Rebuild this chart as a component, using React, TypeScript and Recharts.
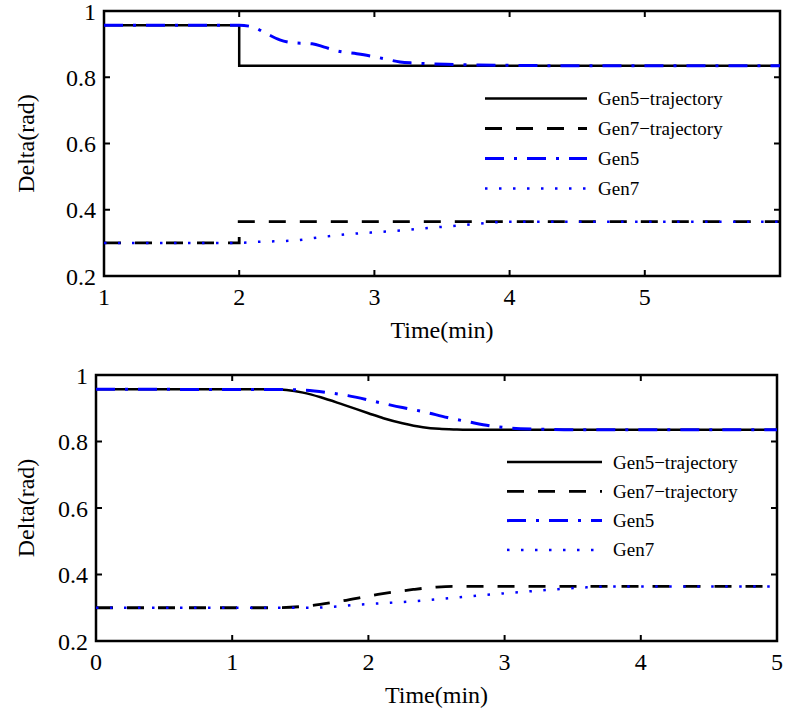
import React from 'react';
import { LineChart, Line, XAxis, YAxis, ReferenceArea, Legend, Label } from 'recharts';

type Pt = { t: number; y: number };

// ---------- shared ----------
const seriesNames = ['Gen5\u2212trajectory', 'Gen7\u2212trajectory', 'Gen5', 'Gen7'];
const yTicks = [0.2, 0.4, 0.6, 0.8, 1];
const yDomain: [number, number] = [0.2, 1];

// ---------- top panel ----------
const topXTicks = [1, 2, 3, 4, 5];
const topXDomain: [number, number] = [1, 6];
const topGen5Traj: Pt[] = [
  { t: 1, y: 0.957 }, { t: 2, y: 0.957 }, { t: 2, y: 0.835 }, { t: 6, y: 0.835 },
];
const topGen7Traj: Pt[] = [
  { t: 1, y: 0.3 }, { t: 2, y: 0.3 }, { t: 2, y: 0.364 }, { t: 6, y: 0.364 },
];
const topGen5: Pt[] = [
  { t: 1, y: 0.957 }, { t: 2.0, y: 0.957 }, { t: 2.1, y: 0.952 }, { t: 2.2, y: 0.932 },
  { t: 2.3, y: 0.913 }, { t: 2.4, y: 0.904 }, { t: 2.54, y: 0.901 }, { t: 2.63, y: 0.891 },
  { t: 2.73, y: 0.879 }, { t: 2.87, y: 0.871 }, { t: 2.96, y: 0.865 }, { t: 3.07, y: 0.856 },
  { t: 3.19, y: 0.846 }, { t: 3.29, y: 0.843 }, { t: 3.4, y: 0.841 }, { t: 3.53, y: 0.839 },
  { t: 3.63, y: 0.838 }, { t: 3.77, y: 0.837 }, { t: 4.0, y: 0.836 }, { t: 4.3, y: 0.835 },
  { t: 6, y: 0.835 },
];
const topGen7: Pt[] = [
  { t: 1, y: 0.3 }, { t: 2, y: 0.3 }, { t: 2.13, y: 0.303 }, { t: 2.4, y: 0.307 },
  { t: 2.62, y: 0.318 }, { t: 2.83, y: 0.327 }, { t: 3.04, y: 0.333 }, { t: 3.24, y: 0.339 },
  { t: 3.46, y: 0.347 }, { t: 3.65, y: 0.353 }, { t: 3.83, y: 0.36 }, { t: 4.0, y: 0.364 },
  { t: 6, y: 0.364 },
];

// ---------- bottom panel ----------
const bottomXTicks = [0, 1, 2, 3, 4, 5];
const bottomXDomain: [number, number] = [0, 5];
const botGen5Traj: Pt[] = [
  { t: 0, y: 0.957 }, { t: 1.3, y: 0.957 }, { t: 1.4, y: 0.955 }, { t: 1.52, y: 0.947 },
  { t: 1.65, y: 0.933 }, { t: 1.82, y: 0.91 }, { t: 2.0, y: 0.885 }, { t: 2.11, y: 0.87 },
  { t: 2.25, y: 0.855 }, { t: 2.4, y: 0.843 }, { t: 2.52, y: 0.838 }, { t: 2.65, y: 0.836 },
  { t: 2.8, y: 0.835 }, { t: 5, y: 0.835 },
];
const botGen7Traj: Pt[] = [
  { t: 0, y: 0.3 }, { t: 1.28, y: 0.3 }, { t: 1.52, y: 0.304 }, { t: 1.77, y: 0.318 },
  { t: 2.07, y: 0.34 }, { t: 2.33, y: 0.355 }, { t: 2.5, y: 0.362 }, { t: 2.62, y: 0.364 },
  { t: 5, y: 0.364 },
];
const botGen5: Pt[] = [
  { t: 0, y: 0.957 }, { t: 1.4, y: 0.956 }, { t: 1.54, y: 0.954 }, { t: 1.7, y: 0.947 },
  { t: 1.85, y: 0.938 }, { t: 2.05, y: 0.92 }, { t: 2.25, y: 0.902 }, { t: 2.4, y: 0.89 },
  { t: 2.58, y: 0.872 }, { t: 2.75, y: 0.858 }, { t: 2.9, y: 0.847 }, { t: 3.05, y: 0.84 },
  { t: 3.25, y: 0.837 }, { t: 3.5, y: 0.835 }, { t: 5, y: 0.835 },
];
const botGen7: Pt[] = [
  { t: 0, y: 0.3 }, { t: 1.6, y: 0.3 }, { t: 1.7, y: 0.302 }, { t: 1.92, y: 0.309 },
  { t: 2.16, y: 0.315 }, { t: 2.41, y: 0.322 }, { t: 2.65, y: 0.331 }, { t: 2.9, y: 0.34 },
  { t: 3.14, y: 0.348 }, { t: 3.39, y: 0.356 }, { t: 3.58, y: 0.361 }, { t: 3.8, y: 0.364 },
  { t: 5, y: 0.364 },
];

// ---------- styles ----------
const FONT = '"Liberation Serif", "Times New Roman", serif';
const seriesStyles = [
  { stroke: '#000000', width: 2.5, dash: undefined as string | undefined },
  { stroke: '#000000', width: 2.8, dash: '17 14' },
  { stroke: '#0000ff', width: 3, dash: '19 10 3 10' },
  { stroke: '#0000ff', width: 2.5, dash: '2.5 11.5' },
];

const XTick = (props: any) => {
  const { x, y, payload, plotH } = props;
  return (
    <g>
      <line x1={x} y1={y} x2={x} y2={y - 6} stroke="#000" strokeWidth={2} />
      <line x1={x} y1={y - plotH} x2={x} y2={y - plotH + 6} stroke="#000" strokeWidth={2} />
      <text x={x} y={y + 29} textAnchor="middle" fontSize={24} fontFamily={FONT} fill="#000">
        {String(payload.value)}
      </text>
    </g>
  );
};

const YTick = (props: any) => {
  const { x, y, payload, plotW } = props;
  const v = payload.value;
  const label = v === 1 ? '1' : Number(v).toFixed(1);
  return (
    <g>
      <line x1={x} y1={y} x2={x + 6} y2={y} stroke="#000" strokeWidth={2} />
      <line x1={x + plotW} y1={y} x2={x + plotW - 6} y2={y} stroke="#000" strokeWidth={2} />
      <text x={x - 8} y={y + 8.5} textAnchor="end" fontSize={24} fontFamily={FONT} fill="#000">
        {label}
      </text>
    </g>
  );
};

const LegendBox = ({ lineLen, rowGap, firstRow }: { lineLen: number; rowGap: number; firstRow: number }) => (
  <svg width={300} height={130} style={{ display: 'block' }}>
    {seriesNames.map((name, i) => {
      const s = seriesStyles[i];
      const ry = firstRow + i * rowGap;
      return (
        <g key={name}>
          <line x1={5} x2={5 + lineLen} y1={ry} y2={ry} stroke={s.stroke} strokeWidth={s.width}
            strokeDasharray={s.dash} />
          <text x={lineLen + 16} y={ry + 6.5} fontSize={19} fontFamily={FONT} fill="#000">{name}</text>
        </g>
      );
    })}
  </svg>
);

type PanelProps = {
  height: number;
  margin: { top: number; right: number; bottom: number; left: number };
  yAxisWidth: number;
  xAxisHeight: number;
  xDomain: [number, number];
  xTicks: number[];
  series: Pt[][];
  curve: 'linear' | 'monotone';
  legend: { left: number; top: number; lineLen: number; rowGap: number; firstRow: number };
};

const Panel = ({ height, margin, yAxisWidth, xAxisHeight, xDomain, xTicks, series, curve, legend }: PanelProps) => {
  const W = 785;
  const plotW = W - margin.left - margin.right - yAxisWidth;
  const plotH = height - margin.top - margin.bottom - xAxisHeight;
  const plotLeft = margin.left + yAxisWidth;
  const plotTop = margin.top;
  return (
    <LineChart width={W} height={height} margin={margin}>
      <XAxis
        type="number"
        dataKey="t"
        domain={xDomain}
        ticks={xTicks}
        interval={0}
        allowDataOverflow
        height={xAxisHeight}
        axisLine={false}
        tickLine={false}
        tickSize={0}
        tickMargin={0}
        tick={(p: any) => <XTick {...p} plotH={plotH} />}
      >
        <Label
          content={() => (
            <text x={plotLeft + plotW / 2} y={plotTop + plotH + 62} textAnchor="middle" fontSize={24}
              fontFamily={FONT} fill="#000">Time(min)</text>
          )}
        />
      </XAxis>
      <YAxis
        type="number"
        domain={yDomain}
        ticks={yTicks}
        interval={0}
        allowDataOverflow
        width={yAxisWidth}
        axisLine={false}
        tickLine={false}
        tickSize={0}
        tickMargin={0}
        tick={(p: any) => <YTick {...p} plotW={plotW} />}
      >
        <Label
          content={() => {
            const cx = 34;
            const cy = plotTop + plotH / 2;
            return (
              <text x={cx} y={cy} textAnchor="middle" fontSize={24} fontFamily={FONT} fill="#000"
                transform={`rotate(-90, ${cx}, ${cy})`}>Delta(rad)</text>
            );
          }}
        />
      </YAxis>
      <ReferenceArea x1={xDomain[0]} x2={xDomain[1]} y1={yDomain[0]} y2={yDomain[1]}
        fill="none" fillOpacity={0} stroke="#000" strokeWidth={2.5} ifOverflow="visible" />
      {series.map((data, i) => {
        const s = seriesStyles[i];
        return (
          <Line
            key={seriesNames[i]}
            data={data}
            dataKey="y"
            name={seriesNames[i]}
            type={i === 0 || i === 1 ? (curve === 'linear' ? 'linear' : 'monotone') : 'monotone'}
            stroke={s.stroke}
            strokeWidth={s.width}
            strokeDasharray={s.dash}
            dot={false}
            activeDot={false}
            isAnimationActive={false}
          />
        );
      })}
      <Legend
        layout="vertical"
        verticalAlign="middle"
        align="center"
        wrapperStyle={{ left: legend.left, top: legend.top, width: 300, height: 130 }}
        content={() => <LegendBox lineLen={legend.lineLen} rowGap={legend.rowGap} firstRow={legend.firstRow} />}
      />
    </LineChart>
  );
};

export default function App() {
  return (
    <div style={{ position: 'absolute', left: 0, top: 0, width: 785, height: 719, background: '#fff' }}>
      <div style={{ position: 'absolute', left: 0, top: 0 }}>
        <Panel
          height={360}
          margin={{ top: 11, right: 5, bottom: 14, left: 0 }}
          yAxisWidth={104}
          xAxisHeight={70}
          xDomain={topXDomain}
          xTicks={topXTicks}
          series={[topGen5Traj, topGen7Traj, topGen5, topGen7]}
          curve="linear"
          legend={{ left: 480, top: 80, lineLen: 102, rowGap: 30, firstRow: 18.5 }}
        />
      </div>
      <div style={{ position: 'absolute', left: 0, top: 360 }}>
        <Panel
          height={359}
          margin={{ top: 15, right: 8, bottom: 14, left: 0 }}
          yAxisWidth={96}
          xAxisHeight={64}
          xDomain={bottomXDomain}
          xTicks={bottomXTicks}
          series={[botGen5Traj, botGen7Traj, botGen5, botGen7]}
          curve="monotone"
          legend={{ left: 502, top: 85, lineLen: 95, rowGap: 29.3, firstRow: 17 }}
        />
      </div>
    </div>
  );
}
